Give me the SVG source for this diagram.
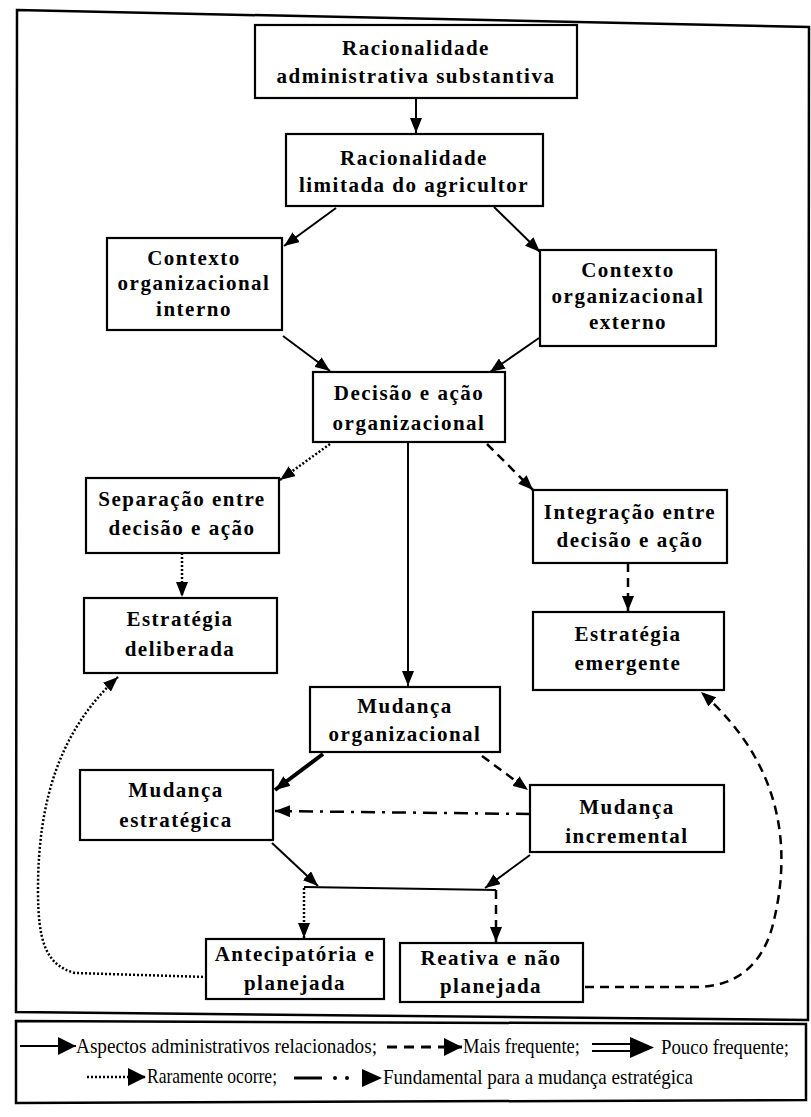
<svg xmlns="http://www.w3.org/2000/svg" width="811" height="1117" viewBox="0 0 811 1117">
<style>
.bx{fill:#fff;stroke:#000;stroke-width:2.2}
.t{font-family:"Liberation Serif","Times New Roman",serif;font-weight:bold;font-size:21px;letter-spacing:1.5px;text-anchor:middle;fill:#000}
.lg{font-family:"Liberation Serif","Times New Roman",serif;font-size:22px;fill:#000}
.c{fill:none;stroke:#000;stroke-width:2}
.dash{stroke-dasharray:9,6;stroke-width:2.5}
.dot{stroke-dasharray:2,2;stroke-width:2.5}
.dd{stroke-dasharray:14,7,3,7;stroke-width:2.5}
.frame{fill:none;stroke:#000;stroke-width:2.5}
</style>
<defs>
<marker id="ah" viewBox="0 0 15 12" refX="15" refY="6" markerWidth="15" markerHeight="12" orient="auto" markerUnits="userSpaceOnUse"><path d="M0,0 L15,6 L0,12 z" fill="#000"/></marker>
<marker id="ahL" viewBox="0 0 18 18" refX="18" refY="9" markerWidth="18" markerHeight="18" orient="auto" markerUnits="userSpaceOnUse"><path d="M0,0 L18,9 L0,18 z" fill="#000"/></marker>
</defs>
<rect width="811" height="1117" fill="#fff"/>
<path class="frame" d="M17,10 L809,27 L808,1020 L16,1012 Z"/>
<path class="frame" d="M16,1021 L806,1024 L806,1100 L16,1103 Z"/>

<g id="connectors">
<line class="c" x1="416" y1="98" x2="416" y2="133" marker-end="url(#ah)"/>
<line class="c" x1="336" y1="208" x2="284" y2="246" marker-end="url(#ah)"/>
<line class="c" x1="494" y1="207" x2="540" y2="252" marker-end="url(#ah)"/>
<line class="c" x1="283" y1="336" x2="330" y2="371" marker-end="url(#ah)"/>
<line class="c" x1="539" y1="338" x2="490" y2="372" marker-end="url(#ah)"/>
<line class="c dot" x1="330" y1="444" x2="280" y2="480" marker-end="url(#ah)"/>
<line class="c" x1="408" y1="443" x2="408" y2="686" marker-end="url(#ah)"/>
<line class="c dash" x1="487" y1="444" x2="533" y2="490" marker-end="url(#ah)"/>
<line class="c dot" x1="182" y1="553" x2="182" y2="597" marker-end="url(#ah)"/>
<line class="c dash" x1="628" y1="563" x2="628" y2="611" marker-end="url(#ah)"/>
<line class="c" style="stroke-width:4" x1="323" y1="754" x2="275" y2="790" marker-end="url(#ah)"/>
<line class="c dash" x1="482" y1="756" x2="528" y2="790" marker-end="url(#ah)"/>
<line class="c dd" x1="530" y1="814" x2="275" y2="811" marker-end="url(#ah)"/>
<line class="c" x1="272" y1="843" x2="318" y2="886" marker-end="url(#ah)"/>
<line class="c" x1="530" y1="855" x2="485" y2="888" marker-end="url(#ah)"/>
<line class="c" x1="304" y1="887" x2="496" y2="890"/>
<line class="c dot" x1="304" y1="888" x2="304" y2="938" marker-end="url(#ah)"/>
<line class="c dash" x1="496" y1="890" x2="496" y2="942" marker-end="url(#ah)"/>
<path class="c dot" d="M207,977 L75,973 C45,965 38,940 38,890 C38,800 60,730 118,677" marker-end="url(#ah)"/>
<path class="c dash" d="M585,987 L700,987 C740,985 762,962 772,928 C790,860 790,770 701,692" marker-end="url(#ah)"/>
</g>

<g id="n1"><rect class="bx" x="255" y="25" width="322" height="73"/>
<text class="t" x="416" y="55">Racionalidade</text><text class="t" x="416" y="83">administrativa substantiva</text></g>
<g id="n2"><rect class="bx" x="286" y="134" width="257" height="72"/>
<text class="t" x="414" y="165">Racionalidade</text><text class="t" x="414" y="192">limitada do agricultor</text></g>
<g id="n3"><rect class="bx" x="107" y="238" width="175" height="92"/>
<text class="t" x="194" y="265">Contexto</text><text class="t" x="194" y="290">organizacional</text><text class="t" x="194" y="316">interno</text></g>
<g id="n4"><rect class="bx" x="540" y="250" width="176" height="96"/>
<text class="t" x="628" y="277">Contexto</text><text class="t" x="628" y="303">organizacional</text><text class="t" x="628" y="329">externo</text></g>
<g id="n5"><rect class="bx" x="313" y="372" width="192" height="70"/>
<text class="t" x="409" y="400">Decisão e ação</text><text class="t" x="409" y="430">organizacional</text></g>
<g id="n6"><rect class="bx" x="86" y="478" width="193" height="75"/>
<text class="t" x="182" y="506">Separação entre</text><text class="t" x="182" y="535">decisão e ação</text></g>
<g id="n7"><rect class="bx" x="533" y="490" width="194" height="73"/>
<text class="t" x="630" y="519">Integração entre</text><text class="t" x="630" y="547">decisão e ação</text></g>
<g id="n8"><rect class="bx" x="84" y="598" width="193" height="75"/>
<text class="t" x="180" y="626">Estratégia</text><text class="t" x="180" y="656">deliberada</text></g>
<g id="n9"><rect class="bx" x="533" y="612" width="191" height="78"/>
<text class="t" x="628" y="641">Estratégia</text><text class="t" x="628" y="670">emergente</text></g>
<g id="n10"><rect class="bx" x="310" y="687" width="190" height="65"/>
<text class="t" x="405" y="713">Mudança</text><text class="t" x="405" y="741">organizacional</text></g>
<g id="n11"><rect class="bx" x="80" y="770" width="193" height="70"/>
<text class="t" x="176" y="797">Mudança</text><text class="t" x="176" y="827">estratégica</text></g>
<g id="n12"><rect class="bx" x="530" y="785" width="194" height="67"/>
<text class="t" x="627" y="814">Mudança</text><text class="t" x="627" y="843">incremental</text></g>
<g id="n13"><rect class="bx" x="206" y="939" width="178" height="60"/>
<text class="t" x="295" y="961">Antecipatória e</text><text class="t" x="295" y="990">planejada</text></g>
<g id="n14"><rect class="bx" x="400" y="943" width="183" height="59"/>
<text class="t" x="491" y="965">Reativa e não</text><text class="t" x="491" y="993">planejada</text></g>

<g id="legend">
<line class="c" x1="20" y1="1046" x2="76" y2="1046" marker-end="url(#ahL)"/>
<text class="lg" x="76" y="1053" textLength="301" lengthAdjust="spacingAndGlyphs">Aspectos administrativos relacionados;</text>
<line class="c" style="stroke-width:3;stroke-dasharray:10,7" x1="387" y1="1047" x2="462" y2="1047" marker-end="url(#ahL)"/>
<text class="lg" x="463" y="1053" textLength="117" lengthAdjust="spacingAndGlyphs">Mais frequente;</text>
<line class="c" x1="592" y1="1044" x2="638" y2="1044"/>
<line class="c" x1="592" y1="1051" x2="638" y2="1051"/>
<path d="M630,1037 L654,1047.5 L630,1058 Z" fill="#000"/>
<text class="lg" x="661" y="1054" textLength="128" lengthAdjust="spacingAndGlyphs">Pouco frequente;</text>
<line class="c dot" x1="87" y1="1077" x2="146" y2="1077" marker-end="url(#ahL)"/>
<text class="lg" x="147" y="1083" textLength="130" lengthAdjust="spacingAndGlyphs">Raramente ocorre;</text>
<line class="c" style="stroke-width:3" x1="294" y1="1078" x2="322" y2="1078"/>
<circle cx="335" cy="1078" r="2" fill="#000"/>
<circle cx="347" cy="1078" r="2" fill="#000"/>
<path d="M362,1069 L382,1078 L362,1087 Z" fill="#000"/>
<text class="lg" x="383" y="1084" textLength="310" lengthAdjust="spacingAndGlyphs">Fundamental para a mudança estratégica</text>
</g>
</svg>
